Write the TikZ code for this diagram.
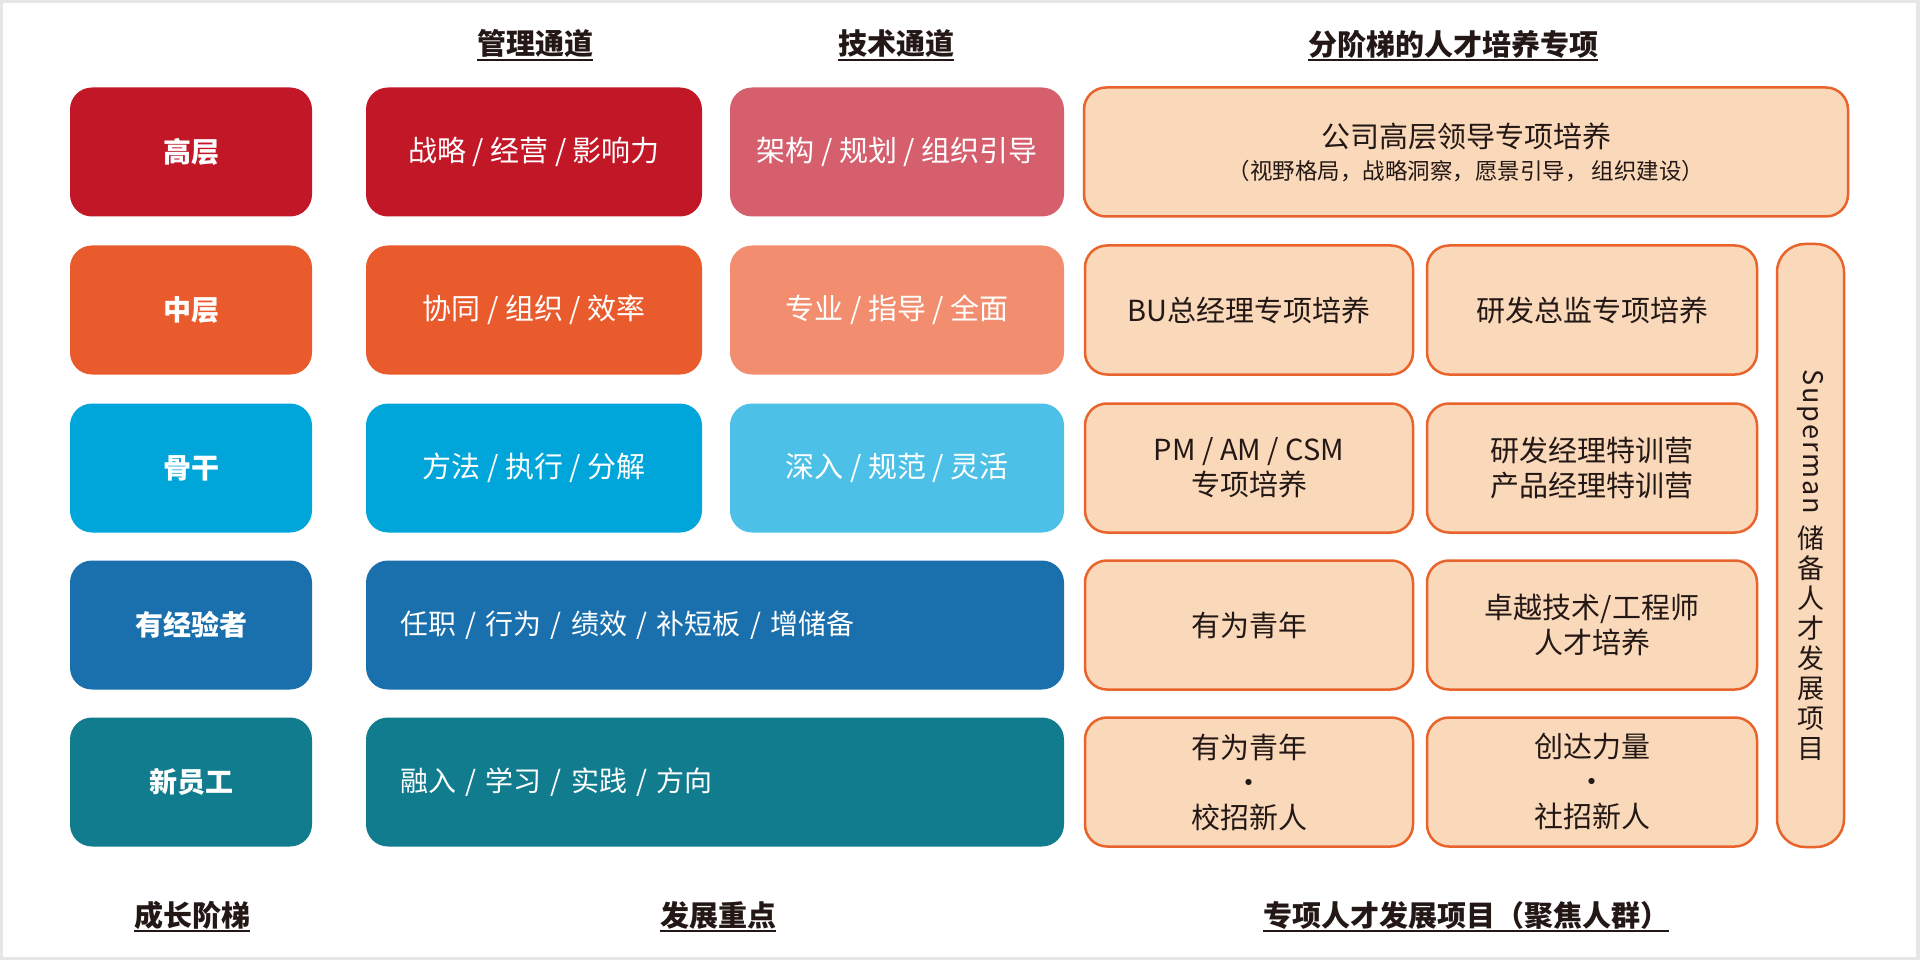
\documentclass[tikz,border=0pt]{standalone}
\usepackage{fontspec}
\setmainfont{Noto Sans CJK SC}
\usetikzlibrary{positioning}

\definecolor{gaoRed}{HTML}{C21727}
\definecolor{gaoPink}{HTML}{D65F6E}
\definecolor{zhongOrange}{HTML}{E95B2D}
\definecolor{zhongSalmon}{HTML}{F28E6F}
\definecolor{guBlue}{HTML}{00A6DA}
\definecolor{guSky}{HTML}{4CC0E6}
\definecolor{expBlue}{HTML}{1A6FAD}
\definecolor{newTeal}{HTML}{127C8F}
\definecolor{peach}{HTML}{FAD8BA}
\definecolor{peachLine}{HTML}{E8642C}
\definecolor{ink}{HTML}{231815}
\definecolor{frame}{HTML}{E6E6E6}

\begin{document}
\begin{tikzpicture}[x=1pt, y=-1pt,
    stage/.style={rounded corners=22pt, minimum width=242pt, minimum height=129pt,
        inner sep=0pt, text=white, font=\fontsize{28}{32}\selectfont\bfseries},
    focus/.style={rounded corners=22pt, minimum height=129pt, inner sep=0pt,
        text=white, font=\fontsize{29}{32}\selectfont},
    prog/.style={rounded corners=22pt, fill=peach, draw=peachLine, line width=2.5pt,
        minimum height=129pt, inner sep=0pt, text=ink, align=center,
        font=\fontsize{29}{35}\selectfont},
    head/.style={inner sep=0pt, text=ink, font=\fontsize{29}{32}\selectfont\bfseries},
    uline/.style={ink, line width=1.6pt}]
    \useasboundingbox (0,0) rectangle (1920,960);
    \fill [frame] (0,0) rectangle (1920,960);
    \fill [white] (3,3) rectangle (1916,957);

    % column heads
    \node[head] (hMgmt) at (535,44) {管理通道};
    \node[head] (hTech) at (896,44) {技术通道};
    \node[head] (hProg) at (1453,44) {分阶梯的人才培养专项};
    \node[head] (hStage) at (192,915) {成长阶梯};
    \node[head] (hFocus) at (718,915) {发展重点};
    \node[head] (hGroup) at (1466,915) {专项人才发展项目（聚焦人群）};
    \foreach \h in {hMgmt,hTech,hProg,hStage,hFocus,hGroup} {
        \draw[uline] ([yshift=-1.5pt]\h.south west) -- ([yshift=-1.5pt]\h.south east);
    }

    % growth ladder
    \node[stage, fill=gaoRed] (sGao) at (191,152) {高层};
    \node[stage, fill=zhongOrange] (sZhong) at (191,310) {中层};
    \node[stage, fill=guBlue] (sGu) at (191,468) {骨干};
    \node[stage, fill=expBlue] (sExp) at (191,625) {有经验者};
    \node[stage, fill=newTeal] (sNew) at (191,782) {新员工};

    % development focus
    \node[focus, fill=gaoRed, minimum width=336pt] (mGao) at (534,152) {战略 / 经营 / 影响力};
    \node[focus, fill=gaoPink, minimum width=334pt] (tGao) at (897,152) {架构 / 规划 / 组织引导};
    \node[focus, fill=zhongOrange, minimum width=336pt] (mZhong) at (534,310) {协同 / 组织 / 效率};
    \node[focus, fill=zhongSalmon, minimum width=334pt] (tZhong) at (897,310) {专业 / 指导 / 全面};
    \node[focus, fill=guBlue, minimum width=336pt] (mGu) at (534,468) {方法 / 执行 / 分解};
    \node[focus, fill=guSky, minimum width=334pt] (tGu) at (897,468) {深入 / 规范 / 灵活};
    \node[focus, fill=expBlue, minimum width=698pt, text width=630pt, align=left,
        font=\fontsize{28}{32}\selectfont] (fExp) at (715,625) {任职 / 行为 / 绩效 / 补短板 / 增储备};
    \node[focus, fill=newTeal, minimum width=698pt, text width=630pt, align=left,
        font=\fontsize{28}{32}\selectfont] (fNew) at (715,782) {融入 / 学习 / 实践 / 方向};

    % talent programmes
    \node[prog, minimum width=764pt] (pGao) at (1466,152)
        {公司高层领导专项培养\\[-3pt]{\fontsize{22.5}{26}\selectfont （视野格局，战略洞察，愿景引导，\,组织建设）}};
    \node[prog, minimum width=328pt] (pBU) at (1249,310) {BU总经理专项培养};
    \node[prog, minimum width=330pt] (pRD) at (1592,310) {研发总监专项培养};
    \node[prog, minimum width=328pt] (pPM) at (1249,468) {PM / AM / CSM\\专项培养};
    \node[prog, minimum width=330pt] (pCamp) at (1592,468) {研发经理特训营\\产品经理特训营};
    \node[prog, minimum width=328pt] (pYouth) at (1249,625) {有为青年};
    \node[prog, minimum width=330pt] (pEng) at (1592,625) {卓越技术/工程师\\人才培养};
    \node[prog, minimum width=328pt] (pCampus) at (1249,782) {有为青年\\•\\校招新人};
    \node[prog, minimum width=330pt] (pSocial) at (1592,782) {创达力量\\•\\社招新人};

    % reserve programme
    \node[prog, rounded corners=28pt, minimum width=67pt, minimum height=603pt] (pSuper) at (1810.5,545.5) {};
    \node[inner sep=0pt, text=ink, rotate=-90,
        font=\fontsize{27}{30}\selectfont\addfontfeatures{LetterSpace=7}] (pSuperLat) at (1810.5,442) {Superman};
    \node[inner sep=0pt, text=ink, align=center, font=\fontsize{27}{30}\selectfont] (pSuperCjk) at (1810.5,643)
        {储\\备\\人\\才\\发\\展\\项\\目};
\end{tikzpicture}
\end{document}
